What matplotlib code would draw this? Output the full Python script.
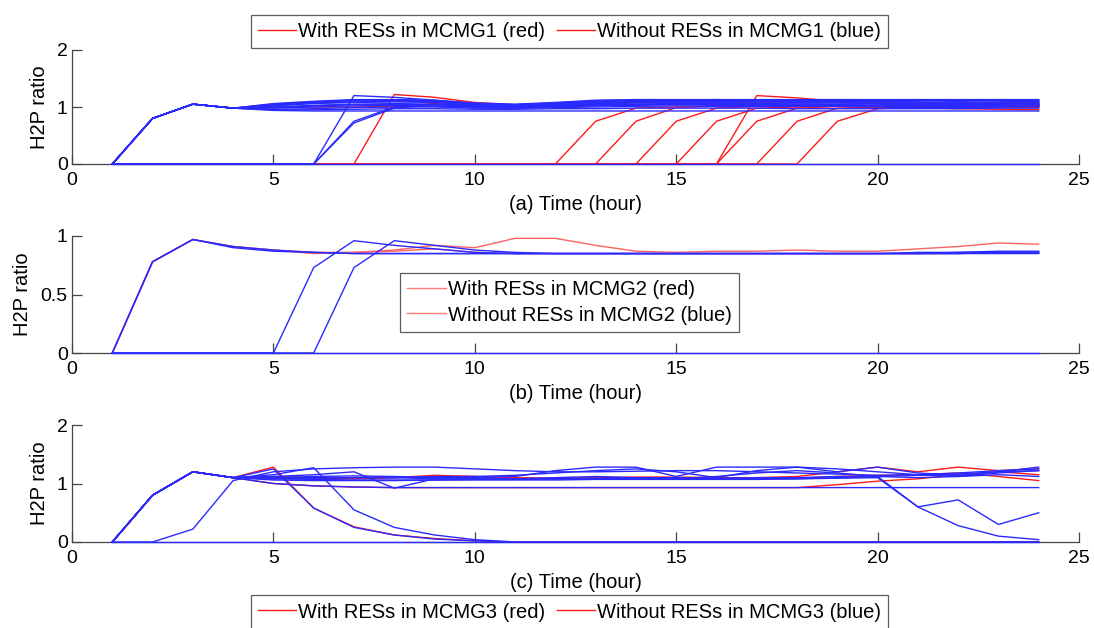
import matplotlib
matplotlib.use("Agg")
import matplotlib.pyplot as plt
from matplotlib.lines import Line2D

plt.rcParams['font.family'] = ['Liberation Sans', 'DejaVu Sans']

hours = list(range(1, 25))

# ---------------- Panel (a): MCMG1 ----------------
blue_a = [
    [0, .80, 1.05, .98, 1.06, 1.10, 1.13, 1.13, 1.12, 1.07, 1.05, 1.08, 1.12, 1.13, 1.13, 1.13, 1.13, 1.13, 1.13, 1.13, 1.13, 1.13, 1.13, 1.13],
    [0, .80, 1.05, .98, 1.05, 1.09, 1.12, 1.12, 1.11, 1.06, 1.04, 1.07, 1.11, 1.12, 1.12, 1.13, 1.12, 1.12, 1.12, 1.12, 1.12, 1.11, 1.12, 1.12],
    [0, .80, 1.05, .98, 1.04, 1.08, 1.11, 1.12, 1.10, 1.05, 1.03, 1.06, 1.10, 1.11, 1.12, 1.12, 1.12, 1.11, 1.11, 1.12, 1.11, 1.10, 1.11, 1.12],
    [0, .80, 1.05, .98, 1.03, 1.07, 1.09, 1.10, 1.09, 1.04, 1.02, 1.05, 1.09, 1.10, 1.11, 1.11, 1.10, 1.10, 1.11, 1.11, 1.09, 1.08, 1.09, 1.10],
    [0, .80, 1.05, .98, 1.02, 1.06, 1.08, 1.09, 1.08, 1.03, 1.01, 1.04, 1.08, 1.09, 1.10, 1.10, 1.09, 1.09, 1.10, 1.10, 1.08, 1.06, 1.08, 1.09],
    [0, .80, 1.05, .98, 1.00, 1.03, 1.05, 1.06, 1.05, 1.01, 1.00, 1.02, 1.05, 1.07, 1.07, 1.07, 1.06, 1.07, 1.07, 1.06, 1.04, 1.03, 1.05, 1.06],
    [0, .80, 1.05, .98, .99, 1.02, 1.04, 1.04, 1.04, 1.01, .99, 1.01, 1.04, 1.05, 1.06, 1.06, 1.05, 1.05, 1.05, 1.05, 1.03, 1.02, 1.04, 1.05],
    [0, .80, 1.05, .98, .98, 1.00, 1.02, 1.03, 1.02, 1.00, .99, 1.00, 1.03, 1.04, 1.05, 1.04, 1.04, 1.04, 1.04, 1.03, 1.02, 1.01, 1.03, 1.04],
    [0, .80, 1.05, .98, .96, .97, .99, 1.00, 1.00, .98, .98, .99, 1.00, 1.01, 1.02, 1.01, 1.01, 1.01, 1.01, 1.00, .99, .99, 1.00, 1.01],
    [0, .80, 1.05, .98, .95, .95, .96, .97, .97, .96, .96, .97, .97, .98, .98, .98, .98, .97, .97, .97, .97, .97, .98, .98],
    [0, .80, 1.05, .98, .94, .93, .93, .93, .93, .93, .93, .93, .93, .93, .93, .93, .93, .93, .93, .93, .93, .93, .93, .93],
    [0, 0, 0, 0, 0, 0, 1.20, 1.17, 1.12, 1.06, 1.03, 1.05, 1.09, 1.10, 1.11, 1.11, 1.10, 1.10, 1.10, 1.09, 1.07, 1.05, 1.06, 1.07],
    [0, 0, 0, 0, 0, 0, .75, 1.00, 1.02, .99, .98, 1.00, 1.02, 1.03, 1.04, 1.03, 1.03, 1.02, 1.03, 1.02, 1.00, .99, 1.01, 1.02],
    [0, 0, 0, 0, 0, 0, .72, .98, 1.05, 1.03, 1.01, 1.03, 1.06, 1.08, 1.08, 1.08, 1.07, 1.07, 1.08, 1.07, 1.05, 1.04, 1.06, 1.07],
    [0, 0, 0, 0, 0, 0, 0, 0, 0, 0, 0, 0, 0, 0, 0, 0, 0, 0, 0, 0, 0, 0, 0, 0],
]
red_a = [
    [0, .80, 1.05, .98, 1.00, 1.00, 1.00, 1.01, 1.06, 1.03, 1.00, 1.05, 1.10, 1.12, 1.12, 1.12, 1.12, 1.12, 1.10, 1.08, 1.05, 1.04, 1.06, 1.03],
    [0, 0, 0, 0, 0, 0, 0, 1.22, 1.17, 1.08, 1.04, 1.06, 1.08, 1.09, 1.10, 1.10, 1.09, 1.09, 1.09, 1.08, 1.06, 1.05, 1.07, 1.08],
    [0, 0, 0, 0, 0, 0, 0, 0, 0, 0, 0, 0, .75, .98, 1.00, 1.01, 1.02, 1.01, 1.02, 1.01, 1.00, .99, 1.01, 1.00],
    [0, 0, 0, 0, 0, 0, 0, 0, 0, 0, 0, 0, 0, .75, .99, 1.02, 1.03, 1.02, 1.03, 1.02, 1.01, 1.00, 1.02, 1.01],
    [0, 0, 0, 0, 0, 0, 0, 0, 0, 0, 0, 0, 0, 0, .75, .98, 1.01, 1.02, 1.01, 1.02, 1.03, 1.02, 1.04, 1.03],
    [0, 0, 0, 0, 0, 0, 0, 0, 0, 0, 0, 0, 0, 0, 0, .75, .98, 1.00, 1.01, 1.00, 1.01, 1.02, 1.00, .99],
    [0, 0, 0, 0, 0, 0, 0, 0, 0, 0, 0, 0, 0, 0, 0, 0, .75, .98, 1.01, 1.02, 1.04, 1.06, 1.04, 1.02],
    [0, 0, 0, 0, 0, 0, 0, 0, 0, 0, 0, 0, 0, 0, 0, 0, 1.20, 1.16, 1.10, 1.09, 1.07, 1.05, 1.03, 1.04],
    [0, 0, 0, 0, 0, 0, 0, 0, 0, 0, 0, 0, 0, 0, 0, 0, 0, .75, .98, 1.00, .99, .97, .96, .95],
    [0, 0, 0, 0, 0, 0, 0, 0, 0, 0, 0, 0, 0, 0, 0, 0, 0, 0, .75, .97, 1.00, 1.02, 1.04, 1.05],
]

# ---------------- Panel (b): MCMG2 ----------------
blue_b = [
    [0, .78, .97, .91, .88, .86, .85, .85, .85, .85, .85, .85, .85, .85, .85, .85, .85, .85, .85, .85, .85, .85, .85, .85],
    [0, .78, .97, .90, .87, .86, .85, .85, .85, .85, .85, .85, .85, .85, .85, .85, .85, .85, .85, .85, .86, .86, .87, .87],
    [0, 0, 0, 0, 0, .73, .96, .92, .89, .86, .85, .85, .85, .85, .85, .85, .85, .85, .85, .85, .85, .86, .86, .86],
    [0, 0, 0, 0, 0, 0, .73, .96, .92, .88, .86, .85, .85, .85, .85, .85, .85, .85, .85, .85, .85, .85, .86, .86],
    [0, 0, 0, 0, 0, 0, 0, 0, 0, 0, 0, 0, 0, 0, 0, 0, 0, 0, 0, 0, 0, 0, 0, 0],
]
red_b = [
    [0, .78, .97, .91, .88, .85, .86, .88, .92, .90, .98, .98, .92, .87, .86, .87, .87, .88, .87, .87, .89, .91, .94, .93],
    [0, .78, .97, .91, .88, .86, .86, .87, .89, .86, .85, .85, .85, .85, .85, .85, .85, .85, .85, .85, .85, .85, .86, .86],
]

# ---------------- Panel (c): MCMG3 ----------------
blue_c = [
    [0, .80, 1.20, 1.10, 1.00, .96, .94, .93, .93, .93, .93, .93, .93, .93, .93, .93, .93, .93, .93, .93, .93, .93, .93, .93],
    [0, 0, .22, 1.05, 1.20, 1.25, 1.27, 1.28, 1.28, 1.25, 1.22, 1.20, 1.20, 1.21, 1.22, 1.22, 1.20, 1.18, 1.16, 1.14, 1.15, 1.18, 1.22, 1.25],
    [0, .80, 1.20, 1.10, 1.12, 1.15, 1.20, .92, 1.08, 1.08, 1.08, 1.08, 1.09, 1.10, 1.10, 1.09, 1.10, 1.10, 1.12, 1.12, 1.14, 1.16, 1.20, 1.22],
    [0, .80, 1.20, 1.10, 1.10, 1.10, 1.10, 1.10, 1.12, 1.12, 1.14, 1.18, 1.22, 1.25, 1.20, 1.10, 1.22, 1.28, 1.25, 1.20, 1.15, 1.12, 1.18, 1.22],
    [0, .80, 1.20, 1.10, 1.25, .58, .25, .12, .05, .02, 0, 0, 0, 0, 0, 0, 0, 0, 0, 0, 0, 0, 0, 0],
    [0, .80, 1.20, 1.10, 1.15, 1.27, .55, .25, .12, .04, 0, 0, 0, 0, 0, 0, 0, 0, 0, 0, 0, 0, 0, 0],
    [0, .80, 1.20, 1.10, 1.08, 1.07, 1.06, 1.06, 1.06, 1.07, 1.08, 1.10, 1.12, 1.10, 1.08, 1.08, 1.08, 1.08, 1.09, 1.10, .60, .72, .30, .50],
    [0, .80, 1.20, 1.10, 1.06, 1.05, 1.05, 1.05, 1.06, 1.06, 1.06, 1.06, 1.07, 1.07, 1.07, 1.07, 1.07, 1.08, 1.10, 1.12, .60, .28, .10, .04],
    [0, .80, 1.20, 1.10, 1.10, 1.12, 1.13, 1.12, 1.10, 1.10, 1.12, 1.22, 1.28, 1.28, 1.12, 1.28, 1.28, 1.28, 1.20, 1.28, 1.18, 1.14, 1.20, 1.28],
    [0, .80, 1.20, 1.10, 1.08, 1.09, 1.10, 1.10, 1.08, 1.07, 1.07, 1.08, 1.08, 1.09, 1.08, 1.12, 1.18, 1.22, 1.18, 1.12, 1.10, 1.12, 1.15, 1.12],
    [0, 0, 0, 0, 0, 0, 0, 0, 0, 0, 0, 0, 0, 0, 0, 0, 0, 0, 0, 0, 0, 0, 0, 0],
]
red_c = [
    [0, .80, 1.20, 1.10, 1.28, .58, .26, .12, .06, .02, 0, 0, 0, 0, 0, 0, 0, 0, 0, 0, 0, 0, 0, 0],
    [0, .80, 1.20, 1.10, 1.12, 1.10, 1.09, 1.10, 1.12, 1.12, 1.10, 1.09, 1.10, 1.11, 1.11, 1.10, 1.10, 1.12, 1.20, 1.28, 1.20, 1.28, 1.22, 1.25],
    [0, .80, 1.20, 1.10, 1.00, .96, .94, .93, .93, .93, .93, .93, .93, .93, .93, .93, .93, .93, .98, 1.04, 1.08, 1.15, 1.20, 1.15],
    [0, .80, 1.20, 1.10, 1.10, 1.09, 1.08, 1.10, 1.14, 1.12, 1.09, 1.08, 1.08, 1.09, 1.10, 1.09, 1.08, 1.09, 1.12, 1.14, 1.15, 1.18, 1.12, 1.05],
]

legend_a = ["With RESs in MCMG1 (red)", "Without RESs in MCMG1 (blue)"]
legend_b = ["With RESs in MCMG2 (red)", "Without RESs in MCMG2 (blue)"]
legend_c = ["With RESs in MCMG3 (red)", "Without RESs in MCMG3 (blue)"]
xlabels = ["(a) Time (hour)", "(b) Time (hour)", "(c) Time (hour)"]
xticks = [0, 5, 10, 15, 20, 25]
yticks_a = [0, 1, 2]
yticks_b = [0, 0.5, 1]
yticks_c = [0, 1, 2]

FS = 14.5
fig = plt.figure(figsize=(10.94, 6.28), dpi=100)
W, H = 1094, 628


def mk_axes(top_px, bottom_px):
    return fig.add_axes([72 / W, 1 - bottom_px / H, 1007 / W, (bottom_px - top_px) / H])


ax_a = mk_axes(50, 164)
ax_b = mk_axes(236, 353)
ax_c = mk_axes(425, 542)

BLUE = '#2a2aff'
panels = [
    (ax_a, blue_a, red_a, yticks_a, (0, 2), '#ff1a1a'),
    (ax_b, blue_b, red_b, yticks_b, (0, 1), '#ff6262'),
    (ax_c, blue_c, red_c, yticks_c, (0, 2), '#ff1a1a'),
]

for i, (ax, blues, reds, yt, yl, rc) in enumerate(panels):
    for s in reds:
        ax.plot(hours, s, color=rc, lw=1.0, clip_on=False, zorder=3)
    for s in blues:
        ax.plot(hours, s, color=BLUE, lw=1.0, clip_on=False, zorder=3)
    ax.set_xlim(0, 25)
    ax.set_ylim(*yl)
    ax.set_xticks(xticks)
    ax.set_yticks(yt)
    ax.set_yticklabels([('%g' % v) for v in yt])
    for sp in ['top', 'right']:
        ax.spines[sp].set_visible(False)
    for sp in ['left', 'bottom']:
        ax.spines[sp].set_color('#444444')
        ax.spines[sp].set_linewidth(0.9)
        ax.spines[sp].set_zorder(2)
    ax.tick_params(direction='in', length=7, width=0.9, color='#444444',
                   labelsize=14)
    ax.tick_params(axis='x', pad=6)
    ax.tick_params(axis='y', pad=3)
    ax.set_xlabel(xlabels[i], fontsize=FS, labelpad=4)
    ax.set_ylabel("H2P ratio", fontsize=FS, labelpad=6)
    ax.patch.set_visible(False)


def handles(color):
    return [Line2D([], [], color=color, lw=1.0), Line2D([], [], color=color, lw=1.0)]


common = dict(fontsize=FS, frameon=True, fancybox=False, shadow=False,
              handlelength=1.9, handletextpad=0.1, borderpad=0.35,
              columnspacing=0.6, labelspacing=0.3, borderaxespad=0)

leg1 = fig.legend(handles('#ff1a1a'), legend_a, loc='center', ncol=2,
                  bbox_to_anchor=(569.5 / W, 1 - 31.5 / H), **common)
leg2 = fig.legend(handles('#ff7a7a'), legend_b, loc='center', ncol=1,
                  bbox_to_anchor=(569.5 / W, 1 - 302.5 / H), **common)
leg3 = fig.legend(handles('#ff1a1a'), legend_c, loc='center', ncol=2,
                  bbox_to_anchor=(569.5 / W, 1 - 612 / H), **common)
for lg in (leg1, leg2, leg3):
    fr = lg.get_frame()
    fr.set_edgecolor('#333333')
    fr.set_linewidth(0.9)

fig.savefig("out.png", dpi=100)
